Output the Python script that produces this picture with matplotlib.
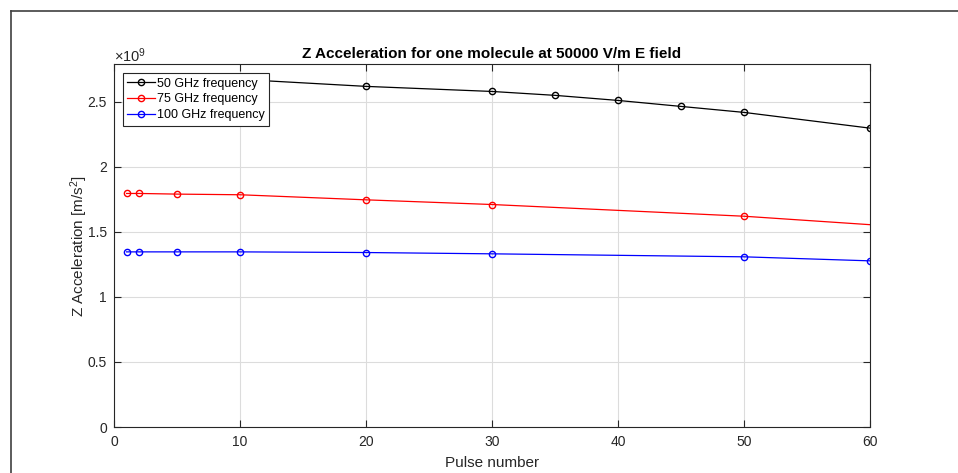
import matplotlib.pyplot as plt
from matplotlib.lines import Line2D

plt.rcParams['font.family'] = ['Liberation Sans', 'DejaVu Sans']
plt.rcParams['mathtext.default'] = 'regular'

# data (Z acceleration in units of 1e9 m/s^2)
pulses_50 = [1, 2, 5, 10, 20, 30, 35, 40, 45, 50, 60]
acc_50 = [2.685, 2.684, 2.681, 2.672, 2.618, 2.579, 2.549, 2.51, 2.464, 2.418, 2.297]
pulses_75 = [1, 2, 5, 10, 20, 30, 50, 60]
acc_75 = [1.795, 1.795, 1.79, 1.785, 1.746, 1.71, 1.62, 1.555]
pulses_100 = [1, 2, 5, 10, 20, 30, 50, 60]
acc_100 = [1.346, 1.346, 1.346, 1.346, 1.341, 1.331, 1.308, 1.277]
labels = ['50 GHz frequency', '75 GHz frequency', '100 GHz frequency']
xticks = [0, 10, 20, 30, 40, 50, 60]
yticks = [0, 0.5, 1, 1.5, 2, 2.5]
ytick_labels = ['0', '0.5', '1', '1.5', '2', '2.5']

fig = plt.figure(figsize=(9.58, 4.73), dpi=100)
ax = fig.add_axes([114/958, 1-427/473, 756/958, 363/473])

mk = dict(marker='o', markerfacecolor='none', markersize=4.5, markeredgewidth=1.0, linewidth=0.9)
ax.plot(pulses_50, acc_50, color='black', label=labels[0], **mk)
# last red point has no marker in the original
ax.plot(pulses_75, acc_75, color='#ff0000', label=labels[1], markevery=list(range(len(pulses_75)-1)), **mk)
ax.plot(pulses_100, acc_100, color='#0000ff', label=labels[2], **mk)

ax.set_xlim(0, 60)
ax.set_ylim(0, 2.79)
ax.set_xticks(xticks)
ax.set_yticks(yticks)
ax.set_yticklabels(ytick_labels)
ax.grid(True, color='#dcdcdc', linewidth=0.8)
ax.set_axisbelow(True)
ax.tick_params(direction='in', top=True, right=True, length=5, width=0.8,
               labelsize=10, colors='#262626', pad=5)
ax.tick_params(axis='x', pad=6)
for s in ax.spines.values():
    s.set_color('#262626')
    s.set_linewidth(0.8)

ax.set_title('Z Acceleration for one molecule at 50000 V/m E field',
             fontsize=11, fontweight='bold', pad=4)
ax.set_xlabel('Pulse number', fontsize=11, labelpad=5, color='#262626')
ax.set_ylabel('Z Acceleration [m/s$^2$]', fontsize=11, labelpad=-1.5, color='#262626')
ax.text(0, 1.0055, r'$\times10^{9}$', transform=ax.transAxes, fontsize=10.5,
        color='#262626', ha='left', va='baseline')

leg = ax.legend(loc='upper left', bbox_to_anchor=(8.7/756, 1-9.3/363), borderaxespad=0,
                fontsize=9, fancybox=False, framealpha=1, edgecolor='#262626',
                handlelength=2.2, handletextpad=0.2, labelspacing=0.3, borderpad=0.35)
leg.get_frame().set_linewidth(0.8)

# outer frame of the screenshot
fig.add_artist(Line2D([11/958, 1], [1-11/473, 1-11/473], color='#404040', linewidth=1.2))
fig.add_artist(Line2D([11/958, 11/958], [0, 1-11/473], color='#404040', linewidth=1.2))

plt.savefig('out.png', dpi=100)
